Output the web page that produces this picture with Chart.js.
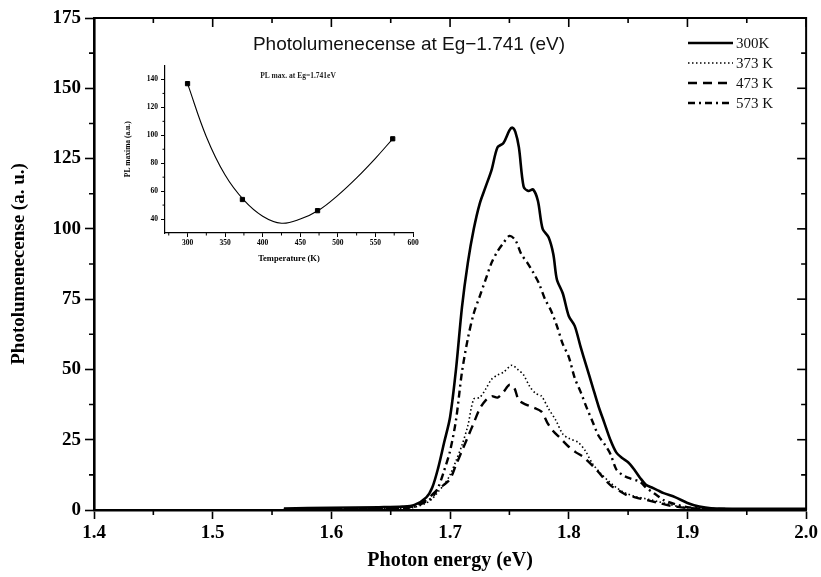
<!DOCTYPE html>
<html>
<head>
<meta charset="utf-8">
<script src="https://cdn.jsdelivr.net/npm/chart.js@4.4.1/dist/chart.umd.min.js"></script>
<style>
  body { margin: 0; background: #fff; }
  #wrap { position: relative; width: 821px; height: 577px; }
  #inset { position: absolute; left: 120px; top: 58px; }
</style>
</head>
<body>
<div id="wrap">
  <canvas id="main" width="821" height="577"></canvas>
  <canvas id="inset" width="310" height="210"></canvas>
</div>
<script>
// PL spectra (photon energy in eV, intensity in a.u.)
const e300 = [1.56,1.60,1.64,1.66,1.67,1.68,1.685,1.69,1.695,1.70,1.705,1.71,1.715,1.72,1.725,1.73,1.735,1.74,1.745,1.75,1.7525,1.755,1.758,1.762,1.766,1.77,1.774,1.778,1.783,1.787,1.79,1.795,1.80,1.805,1.81,1.815,1.82,1.825,1.83,1.835,1.84,1.845,1.85,1.855,1.86,1.865,1.87,1.875,1.88,1.89,1.90,1.91,1.92,1.95,2.0];
const pl300 = [0.5,0.8,1,1.2,1.8,4.5,8,15,24,33,50,72,88,100,109,115,121,129,130.5,135,136,134.5,129,115,113.5,114,110,100,97,91,82,77,69,65.5,58,51,44,37,31,25,20.5,18.5,17,14.5,11.5,9,8,7,6,4.5,2.5,1.2,0.6,0.4,0.4];

const e373 = [1.56,1.62,1.66,1.67,1.68,1.685,1.69,1.695,1.70,1.705,1.71,1.715,1.72,1.725,1.73,1.735,1.74,1.745,1.752,1.757,1.762,1.767,1.772,1.777,1.783,1.789,1.795,1.80,1.808,1.814,1.82,1.827,1.833,1.84,1.848,1.856,1.865,1.875,1.885,1.895,1.91,1.95,2.0];
const pl373 = [0.3,0.4,0.5,1,2.5,4,6.5,9,12.5,17.5,23,30,39.5,40,43,46.5,48,49,51.5,50,48,44,41.5,40.5,36,32,27,25.5,24,21,16.5,13,10.5,8,6,4.8,4,3,2,1,0.5,0.3,0.3];

const e473 = [1.56,1.62,1.66,1.67,1.68,1.685,1.69,1.695,1.70,1.705,1.71,1.715,1.72,1.725,1.73,1.735,1.74,1.745,1.75,1.754,1.758,1.764,1.77,1.777,1.782,1.787,1.793,1.80,1.806,1.812,1.817,1.824,1.83,1.836,1.842,1.848,1.856,1.866,1.876,1.886,1.90,1.92,2.0];
const pl473 = [0.3,0.4,0.5,1.5,3.5,5.5,7.5,9,11,16,21,26,31,36,39,40.5,40,42,44.5,43.5,39,37.5,36.5,35,31,28,25.5,22.5,20.5,19,17,14,11,8.5,7,5.5,4.5,3.5,2.5,1.5,0.7,0.3,0.3];

const e573 = [1.56,1.62,1.66,1.67,1.68,1.685,1.69,1.695,1.70,1.705,1.71,1.715,1.72,1.725,1.73,1.735,1.74,1.745,1.75,1.755,1.76,1.765,1.77,1.775,1.78,1.785,1.79,1.795,1.80,1.805,1.81,1.815,1.82,1.825,1.83,1.835,1.84,1.845,1.85,1.86,1.865,1.87,1.875,1.88,1.89,1.90,1.92,2.0];
const pl573 = [0.3,0.4,0.8,1.2,3,4.5,8,14,21,32,49,61,70,76,82,88,92,95,97.5,96,91,88,84.5,80.5,75,71,65.5,59,54.5,47,42,36.5,31.5,26.5,23.5,20,14.5,12.5,11.5,10,8,6.5,5,3.5,2,1,0.4,0.3];

const seriesLabels = ['300K', '373 K', '473 K', '573 K'];

// inset: PL maximum vs temperature
const insetTemps = [300, 373, 473, 573];
const insetPeaks = [137, 54, 46, 97.5];
const fitTemps = [300, 325, 350, 375, 400, 425, 450, 475, 500, 525, 550, 573];
const fitPeaks = [137, 99, 71.5, 53.5, 42, 37, 40, 46.5, 57, 69.5, 83.5, 97.5];
const insetYTicks = [40, 60, 80, 100, 120, 140];

const toXY = (xs, ys) => xs.map((x, i) => ({ x: x, y: ys[i] }));

const styles = [
    { width: 2.6, dash: [] },
    { width: 1.6, dash: [1.5, 2.5] },
    { width: 2.4, dash: [9, 6] },
    { width: 2.4, dash: [7, 4, 2, 4] }
];

const serif = '"Liberation Serif", "Times New Roman", serif';

const mainDecor = {
    id: 'mainDecor',
    afterDraw(chart) {
        const { ctx, chartArea: a, scales: { x, y } } = chart;
        ctx.save();
        ctx.strokeStyle = '#000';
        ctx.setLineDash([]);
        // top and right frame
        ctx.lineWidth = 2;
        ctx.beginPath();
        ctx.moveTo(a.left, a.top);
        ctx.lineTo(a.right, a.top);
        ctx.lineTo(a.right, a.bottom);
        ctx.stroke();
        ctx.lineWidth = 1.6;
        for (let i = 0; i <= 12; i++) {
            const px = x.getPixelForValue(1.4 + i * 0.05);
            const major = i % 2 === 0;
            const len = major ? 9 : 5;
            ctx.beginPath();
            ctx.moveTo(px, a.top);
            ctx.lineTo(px, a.top + len);
            if (!major) { ctx.moveTo(px, a.bottom); ctx.lineTo(px, a.bottom + len); }
            ctx.stroke();
        }
        for (let i = 0; i <= 14; i++) {
            const py = y.getPixelForValue(i * 12.5);
            const major = i % 2 === 0;
            const len = major ? 9 : 5;
            ctx.beginPath();
            ctx.moveTo(a.right, py);
            ctx.lineTo(a.right - len, py);
            if (!major) { ctx.moveTo(a.left, py); ctx.lineTo(a.left - len, py); }
            ctx.stroke();
        }
        // title inside plot
        ctx.fillStyle = '#111';
        ctx.font = '19px "Liberation Sans", Arial, sans-serif';
        ctx.textAlign = 'center';
        ctx.textBaseline = 'middle';
        ctx.fillText('Photolumenecense at Eg\u22121.741 (eV)', 409, 45);
        // legend
        ctx.font = '15px ' + serif;
        ctx.textAlign = 'left';
        seriesLabels.forEach((lab, i) => {
            const ly = 43 + i * 20;
            ctx.lineWidth = styles[i].width;
            ctx.setLineDash(styles[i].dash);
            ctx.beginPath();
            ctx.moveTo(688, ly);
            ctx.lineTo(733, ly);
            ctx.stroke();
            ctx.fillText(lab, 736, ly + 1);
        });
        ctx.restore();
    }
};

new Chart(document.getElementById('main'), {
    type: 'line',
    data: {
        datasets: [
            { label: seriesLabels[0], data: toXY(e300, pl300) },
            { label: seriesLabels[1], data: toXY(e373, pl373) },
            { label: seriesLabels[2], data: toXY(e473, pl473) },
            { label: seriesLabels[3], data: toXY(e573, pl573) }
        ].map((d, i) => Object.assign(d, {
            borderColor: '#000',
            borderWidth: styles[i].width,
            borderDash: styles[i].dash,
            pointRadius: 0,
            tension: 0.3,
            fill: false
        }))
    },
    options: {
        responsive: false,
        animation: false,
        layout: { padding: { top: 18, right: 14, left: 0, bottom: 0 } },
        plugins: { legend: { display: false }, tooltip: { enabled: false } },
        scales: {
            x: {
                type: 'linear', min: 1.4, max: 2.0,
                ticks: {
                    stepSize: 0.1, color: '#000', padding: 3, maxRotation: 0,
                    font: { family: serif, weight: 'bold', size: 19 },
                    callback: v => v.toFixed(1)
                },
                grid: { drawOnChartArea: false, tickLength: 9, tickWidth: 1.6, tickColor: '#000' },
                border: { color: '#000', width: 2.6 },
                title: {
                    display: true, text: 'Photon energy (eV)', color: '#000',
                    font: { family: serif, weight: 'bold', size: 20 }, padding: { top: 0, bottom: 4 }
                },
                afterFit: s => { s.height = 67; }
            },
            y: {
                min: 0, max: 175,
                ticks: {
                    stepSize: 25, color: '#000', padding: 4,
                    font: { family: serif, weight: 'bold', size: 19 }
                },
                grid: { drawOnChartArea: false, tickLength: 9, tickWidth: 1.6, tickColor: '#000' },
                border: { color: '#000', width: 2.6 },
                title: {
                    display: true, text: 'Photolumenecense (a. u.)', color: '#000',
                    font: { family: serif, weight: 'bold', size: 19 }, padding: { top: 8, bottom: 0 }
                },
                afterFit: s => { s.width = 94; }
            }
        }
    },
    plugins: [mainDecor]
});

const insetDecor = {
    id: 'insetDecor',
    afterDraw(chart) {
        const { ctx, chartArea: a, scales: { x, y } } = chart;
        ctx.save();
        ctx.strokeStyle = '#000';
        ctx.lineWidth = 1;
        for (let t = 275; t < 600; t += 50) {
            const px = x.getPixelForValue(t);
            ctx.beginPath(); ctx.moveTo(px, a.bottom); ctx.lineTo(px, a.bottom + 2.5); ctx.stroke();
        }
        for (let v = 50; v < 150; v += 20) {
            const py = y.getPixelForValue(v);
            ctx.beginPath(); ctx.moveTo(a.left, py); ctx.lineTo(a.left - 2.5, py); ctx.stroke();
        }
        ctx.fillStyle = '#222';
        ctx.font = 'bold 7.5px ' + serif;
        ctx.textAlign = 'center';
        ctx.textBaseline = 'middle';
        ctx.fillText('PL max. at Eg=1.741eV', 178, 18);
        ctx.restore();
    }
};

new Chart(document.getElementById('inset'), {
    type: 'line',
    data: {
        datasets: [
            {
                data: toXY(insetTemps, insetPeaks), showLine: false,
                pointStyle: 'rect', pointRadius: 3, pointBackgroundColor: '#000', pointBorderColor: '#000'
            },
            {
                data: toXY(fitTemps, fitPeaks), borderColor: '#000', borderWidth: 1.1,
                pointRadius: 0, tension: 0.4, fill: false
            }
        ]
    },
    options: {
        responsive: false,
        animation: false,
        layout: { padding: { top: 5, right: 17, left: 0, bottom: 0 } },
        plugins: { legend: { display: false }, tooltip: { enabled: false } },
        scales: {
            x: {
                type: 'linear', min: 270, max: 600,
                ticks: {
                    stepSize: 50, includeBounds: false, color: '#000', padding: 2, maxRotation: 0,
                    font: { family: serif, weight: 'bold', size: 7.5 }
                },
                grid: { drawOnChartArea: false, tickLength: 4, tickColor: '#000' },
                border: { color: '#000', width: 1.2 },
                title: {
                    display: true, text: 'Temperature (K)', color: '#000',
                    font: { family: serif, weight: 'bold', size: 8.5 }, padding: { top: 1, bottom: 4 }
                },
                afterFit: s => { s.height = 35; }
            },
            y: {
                min: 30, max: 150,
                afterBuildTicks: s => { s.ticks = insetYTicks.map(v => ({ value: v })); },
                ticks: {
                    color: '#000', padding: 3,
                    font: { family: serif, weight: 'bold', size: 7.5 }
                },
                grid: { drawOnChartArea: false, tickLength: 4, tickColor: '#000' },
                border: { color: '#000', width: 1.2 },
                title: {
                    display: true, text: 'PL maxima (a.u.)', color: '#000',
                    font: { family: serif, weight: 'bold', size: 7.5 }, padding: { top: 4, bottom: 0 }
                },
                afterFit: s => { s.width = 45; }
            }
        }
    },
    plugins: [insetDecor]
});
</script>
</body>
</html>
